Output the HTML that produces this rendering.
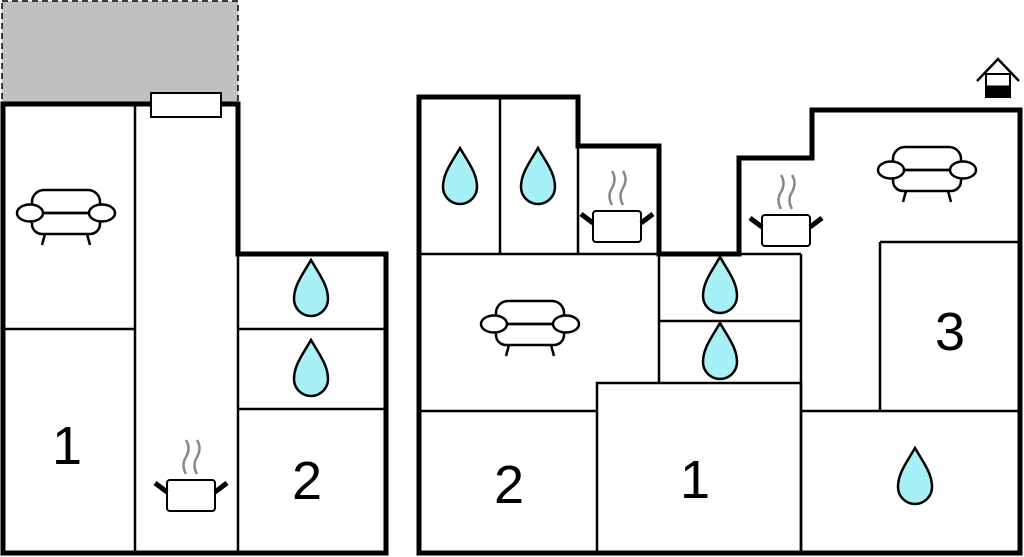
<!DOCTYPE html>
<html><head><style>html,body{margin:0;padding:0;background:#fff}svg{display:block}</style></head><body>
<svg width="1024" height="557" viewBox="0 0 1024 557" xmlns="http://www.w3.org/2000/svg">
<defs>
<g id="drop"><path d="M0,-29 C-8,-15 -17,-4 -17,10 A17,17 0 0 0 17,10 C17,-4 8,-15 0,-29Z" fill="#a6f0f6" stroke="#000" stroke-width="2.5"/></g>
<g id="pot" fill="none">
<path d="M-5,-21 q-5,-9 0,-17 q5,-9 0,-17 M6,-21 q-5,-9 0,-17 q5,-9 0,-17" stroke="#888" stroke-width="2.5"/>
<rect x="-24" y="-15" width="48" height="31" rx="3" fill="#fff" stroke="#000" stroke-width="2"/>
<path d="M-24,-3 L-36,-12 M24,-3 L36,-12" stroke="#000" stroke-width="5"/>
</g>
<g id="sofa" fill="#fff" stroke="#000" stroke-width="2.5">
<path d="M-21,21 L-24,32 M21,21 L24,32" fill="none"/>
<rect x="-34" y="-23" width="68" height="29" rx="12"/>
<rect x="-34" y="0" width="68" height="21" rx="10"/>
<ellipse cx="-36" cy="0" rx="13" ry="8.5"/>
<ellipse cx="36" cy="0" rx="13" ry="8.5"/>
<line x1="-23" y1="0" x2="23" y2="0"/>
</g>
</defs>
<rect x="2" y="1" width="236" height="103" fill="#c0c0c0" stroke="#000" stroke-width="1.5" stroke-dasharray="6,4"/>
<g stroke="#000" stroke-width="2.5" fill="none">
<line x1="135" y1="104" x2="135" y2="553"/>
<line x1="3" y1="329" x2="135" y2="329"/>
<line x1="238" y1="254" x2="238" y2="553"/>
<line x1="238" y1="329" x2="386" y2="329"/>
<line x1="238" y1="409" x2="386" y2="409"/>
<line x1="500" y1="97" x2="500" y2="254"/>
<line x1="578" y1="146" x2="578" y2="254"/>
<line x1="419" y1="254" x2="659" y2="254"/>
<line x1="739" y1="254" x2="801" y2="254"/>
<line x1="659" y1="254" x2="659" y2="383"/>
<line x1="801" y1="254" x2="801" y2="553"/>
<line x1="659" y1="321" x2="801" y2="321"/>
<rect x="597" y="383" width="204" height="170"/>
<line x1="419" y1="411" x2="597" y2="411"/>
<line x1="801" y1="411" x2="1020" y2="411"/>
<line x1="880" y1="242" x2="880" y2="411"/>
<line x1="880" y1="242" x2="1020" y2="242"/>
</g>
<g stroke="#000" stroke-width="5" fill="none" stroke-linejoin="miter">
<path d="M3,104 L238,104 L238,254 L386,254 L386,553 L3,553 Z"/>
<path d="M419,553 L419,97 L578,97 L578,146 L659,146 L659,254 L739,254 L739,158 L812,158 L812,110 L1020,110 L1020,553 Z"/>
</g>
<rect x="151" y="93" width="70" height="24" fill="#fff" stroke="#000" stroke-width="2"/>
<use href="#sofa" x="66" y="213"/>
<use href="#sofa" x="530" y="324"/>
<use href="#sofa" x="927" y="170"/>
<use href="#pot" x="191" y="495"/>
<use href="#pot" x="617" y="226"/>
<use href="#pot" x="786" y="230"/>
<use href="#drop" x="311" y="289"/>
<use href="#drop" x="311" y="369"/>
<use href="#drop" x="460" y="177"/>
<use href="#drop" x="538" y="177"/>
<use href="#drop" x="720" y="286"/>
<use href="#drop" x="720" y="352"/>
<use href="#drop" x="915" y="477"/>
<g font-family="Liberation Sans, sans-serif" font-size="54" text-anchor="middle">
<text x="67" y="464">1</text>
<text x="307" y="499">2</text>
<text x="509" y="503">2</text>
<text x="695" y="498">1</text>
<text x="950" y="350">3</text>
</g>
<g stroke="#000" fill="none">
<path d="M977,81 L998,59 L1019,81" stroke-width="2.5"/>
<rect x="986" y="74" width="24" height="23" stroke-width="2"/>
<rect x="986" y="86" width="24" height="11" fill="#000"/>
</g>
</svg>
</body></html>
